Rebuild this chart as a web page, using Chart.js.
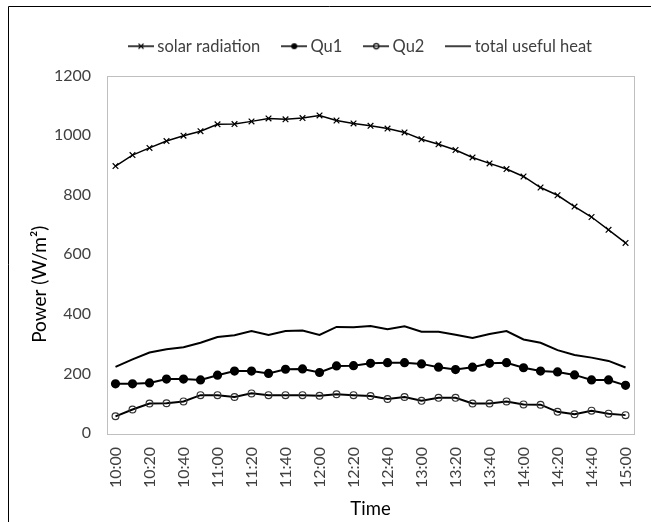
<!DOCTYPE html>
<html>
<head>
<meta charset="utf-8">
<script src="https://cdn.jsdelivr.net/npm/chart.js@4"></script>
<style>
  body { margin: 0; background: #fff; }
  #wrap { position: relative; width: 651px; height: 522px; }
</style>
</head>
<body>
<div id="wrap"><canvas id="lineChart" width="651" height="522"></canvas></div>
<script>
// data (every 10 minutes, 10:00 - 15:00)
const times = ['10:00','10:10','10:20','10:30','10:40','10:50','11:00','11:10','11:20','11:30',
  '11:40','11:50','12:00','12:10','12:20','12:30','12:40','12:50','13:00','13:10',
  '13:20','13:30','13:40','13:50','14:00','14:10','14:20','14:30','14:40','14:50','15:00'];
const solarRadiation = [896, 933, 957, 980, 998, 1013, 1036, 1037, 1046, 1056,
  1053, 1057, 1066, 1049, 1039, 1031, 1022, 1009, 986, 969,
  950, 925, 905, 886, 861, 824, 798, 760, 725, 682, 638];
const qu1 = [165, 165, 168, 181, 181, 178, 194, 208, 208, 200,
  214, 215, 203, 225, 226, 234, 236, 236, 232, 221,
  213, 221, 234, 236, 219, 208, 205, 195, 178, 178, 160];
const qu2 = [56, 79, 99, 100, 106, 127, 127, 121, 133, 127,
  127, 127, 125, 130, 127, 124, 114, 121, 108, 118,
  118, 99, 99, 106, 96, 95, 71, 63, 75, 65, 60];
const totalHeat = [222, 247, 270, 281, 288, 303, 322, 328, 342, 329,
  342, 344, 329, 356, 355, 359, 348, 358, 340, 340,
  330, 319, 332, 342, 314, 303, 278, 262, 253, 242, 220];
const yTicks = [0, 200, 400, 600, 800, 1000, 1200];
const yTitle = 'Power (W/m²)';

const FONT = 'Lato, "Liberation Sans", sans-serif';
const TEXT = '#404040';

// small legend symbols: a line with the series marker on it
function legendIcon(marker) {
  const c = document.createElement('canvas');
  c.width = 26; c.height = 10;
  const g = c.getContext('2d');
  g.strokeStyle = '#000';
  g.lineWidth = 1.5;
  g.beginPath(); g.moveTo(0, 5); g.lineTo(26, 5); g.stroke();
  if (marker === 'cross') {
    g.lineWidth = 1.1;
    g.beginPath();
    g.moveTo(10.5, 2.5); g.lineTo(15.5, 7.5);
    g.moveTo(15.5, 2.5); g.lineTo(10.5, 7.5);
    g.stroke();
  } else if (marker === 'dot') {
    g.fillStyle = '#000';
    g.beginPath(); g.arc(13, 5, 3, 0, Math.PI * 2); g.fill();
  } else if (marker === 'ring') {
    g.lineWidth = 1.1;
    g.fillStyle = '#fff';
    g.beginPath(); g.arc(13, 5, 2.6, 0, Math.PI * 2); g.fill(); g.stroke();
    g.beginPath(); g.moveTo(10.5, 5); g.lineTo(15.5, 5); g.stroke();
  }
  return c;
}
const icons = [legendIcon('cross'), legendIcon('dot'), legendIcon('ring'), legendIcon('none')];

const frames = {
  id: 'frames',
  afterInit(chart) {
    // leave some room under the legend
    const fit = chart.legend.fit;
    chart.legend.fit = function () { fit.call(this); this.height += 11; };
  },
  afterLayout(chart) {
    // legend sits a little right of the canvas centre
    chart.legend.left += 31;
    chart.legend.right += 31;
  },
  afterDraw(chart) {
    const { ctx, chartArea: a } = chart;
    ctx.save();
    // outer frame and plot-area border
    ctx.strokeStyle = '#000';
    ctx.lineWidth = 1;
    ctx.beginPath();
    ctx.moveTo(8.5, 522); ctx.lineTo(8.5, 6.5); ctx.lineTo(651, 6.5);
    ctx.stroke();
    ctx.strokeStyle = '#bfbfbf';
    ctx.strokeRect(Math.round(a.left) + 0.5, Math.round(a.top) + 0.5,
      Math.round(a.right - a.left), Math.round(a.bottom - a.top));
    // y axis title, placed a bit below the middle like the original
    ctx.translate(40, (a.top + a.bottom) / 2 + 30);
    ctx.rotate(-Math.PI / 2);
    ctx.fillStyle = '#000';
    ctx.font = '19px ' + FONT;
    ctx.textAlign = 'center';
    ctx.textBaseline = 'middle';
    ctx.fillText(yTitle, 0, 0);
    ctx.restore();
  }
};

const ctx = document.getElementById('lineChart').getContext('2d');
new Chart(ctx, {
  type: 'line',
  data: {
    labels: times,
    datasets: [{
      label: 'solar radiation',
      data: solarRadiation,
      borderColor: '#000',
      borderWidth: 1.5,
      pointStyle: 'crossRot',
      pointRadius: 4,
      pointBorderWidth: 1.2,
      pointBorderColor: '#000',
      tension: 0
    }, {
      label: 'Qu1',
      data: qu1,
      borderColor: '#000',
      borderWidth: 2,
      pointStyle: 'circle',
      pointRadius: 3.6,
      pointBackgroundColor: '#000',
      pointBorderColor: '#000',
      tension: 0
    }, {
      label: 'Qu2',
      data: qu2,
      borderColor: '#000',
      borderWidth: 2,
      pointStyle: 'circle',
      pointRadius: 3.4,
      pointBorderWidth: 1.2,
      pointBackgroundColor: 'rgba(255,255,255,0)',
      pointBorderColor: '#333',
      tension: 0
    }, {
      label: 'total useful heat',
      data: totalHeat,
      borderColor: '#000',
      borderWidth: 2,
      pointRadius: 0,
      tension: 0
    }]
  },
  options: {
    responsive: false,
    animation: false,
    events: [],
    layout: { padding: { top: 12, right: 16, left: 28, bottom: 2 } },
    plugins: {
      tooltip: { enabled: false },
      legend: {
        position: 'top',
        labels: {
          color: TEXT,
          font: { family: FONT, size: 16.5 },
          usePointStyle: true,
          pointStyleWidth: 16,
          boxHeight: 10,
          padding: 26,
          generateLabels(chart) {
            return chart.data.datasets.map((ds, i) => ({
              text: ds.label,
              pointStyle: icons[i],
              fontColor: TEXT,
              lineWidth: 0,
              strokeStyle: 'transparent',
              fillStyle: 'transparent',
              datasetIndex: i
            }));
          }
        }
      }
    },
    scales: {
      x: {
        offset: true,
        grid: { display: false },
        border: { display: false },
        ticks: {
          autoSkip: false,
          maxRotation: 90,
          minRotation: 90,
          padding: 6,
          color: TEXT,
          font: { family: FONT, size: 16 },
          callback(v, i) { return i % 2 === 0 ? times[i] : ''; }
        },
        title: {
          display: true,
          text: 'Time',
          color: '#000',
          font: { family: FONT, size: 18.5 },
          padding: { top: 2, bottom: 0 }
        },
        afterFit(scale) { scale.height = 87; }
      },
      y: {
        min: 0,
        max: 1200,
        grid: { display: false },
        border: { display: false },
        afterBuildTicks(scale) { scale.ticks = yTicks.map(v => ({ value: v })); },
        ticks: {
          padding: 8,
          color: TEXT,
          font: { family: FONT, size: 16 },
          callback(v) { return String(v); }
        },
        title: { display: false },
        afterFit(scale) { scale.width = 79; }
      }
    }
  },
  plugins: [frames]
});
</script>
</body>
</html>
